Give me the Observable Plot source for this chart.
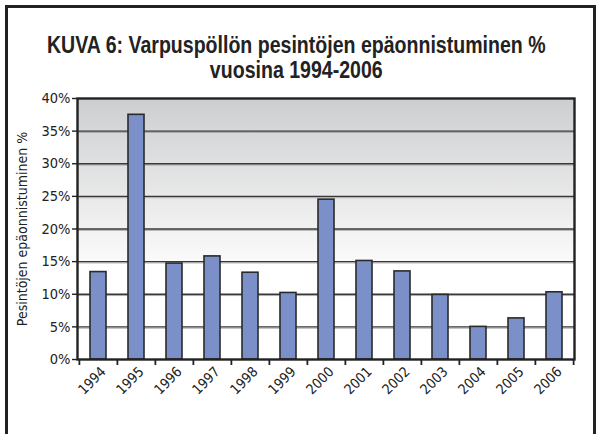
<!DOCTYPE html>
<html><head><meta charset="utf-8">
<script src="https://cdn.jsdelivr.net/npm/d3@7"></script>
<script src="https://cdn.jsdelivr.net/npm/@observablehq/plot@0.6"></script>
<style>
body{margin:0;background:#fff;}
#wrap{position:relative;width:599px;height:434px;overflow:hidden;font-family:"DejaVu Sans Condensed",sans-serif;}
#box{position:absolute;left:5px;top:5px;width:585px;height:460px;border:3px solid #222;}
#title{position:absolute;left:0;top:33px;width:593px;text-align:center;}
#title span{display:inline-block;transform:scaleX(0.85);transform-origin:center;font-family:"Liberation Sans",Arial,sans-serif;font-weight:bold;font-size:23px;line-height:25px;color:#222;white-space:nowrap;}
#chart{position:absolute;left:0;top:0;}
</style></head>
<body>
<div id="wrap"><div id="box"></div><div id="title"><span>KUVA 6: Varpuspöllön pesintöjen epäonnistuminen %<br>vuosina 1994-2006</span></div><div id="chart"></div></div>
<script>
const years = ["1994","1995","1996","1997","1998","1999","2000","2001","2002","2003","2004","2005","2006"];
const failurePct = [13.4, 37.5, 14.7, 15.8, 13.3, 10.2, 24.5, 15.1, 13.5, 9.9, 5.0, 6.3, 10.3];
const yTicks = [0, 5, 10, 15, 20, 25, 30, 35, 40];
const yTitle = "Pesintöjen epäonnistuminen %";

const data = years.map((y, i) => ({year: y, value: failurePct[i]}));
const W = 599, H = 434, mL = 77, mR = 25, mT = 98, mB = 75;
const step = (W - mL - mR) / years.length;
const font = '"DejaVu Sans Condensed",sans-serif';

const chart = Plot.plot({
  width: W, height: H,
  marginLeft: mL, marginRight: mR, marginTop: mT, marginBottom: mB,
  style: {fontFamily: font, background: "transparent", color: "#222"},
  x: {domain: years, paddingInner: 0.58, paddingOuter: 0.29, axis: null},
  y: {domain: [0, 40], axis: null},
  marks: [
    Plot.frame({fill: "url(#bgGrad)", stroke: null}),
    Plot.ruleY(yTicks.filter(d => d > 0 && d < 40), {stroke: "#aaa", strokeWidth: 1, dy: 1.3}),
    Plot.ruleY(yTicks.filter(d => d > 0 && d < 40), {stroke: "#383838", strokeWidth: 1.3}),
    Plot.barY(data, {x: "year", y: "value", fill: "#7b8fc9", stroke: "#2a2a2a", strokeWidth: 1.6}),
    Plot.frame({stroke: "#222", strokeWidth: 2.4}),
    Plot.ruleX(years, {x: d => d, y1: 0, y2: 0, dx: -step / 2, insetBottom: -6, stroke: "#222", strokeWidth: 1.8}),
    Plot.ruleX(years.slice(-1), {x: d => d, y1: 0, y2: 0, dx: step / 2, insetBottom: -6, stroke: "#222", strokeWidth: 1.8}),
    Plot.axisY({ticks: yTicks, tickFormat: d => d + "%", tickSize: 5, tickPadding: 2, fontSize: 14.5, label: null, stroke: "#222", strokeWidth: 1.4}),
    Plot.axisX({tickRotate: -45, tickSize: 0, tickPadding: 10, dx: 5, fontSize: 14, label: null}),
    Plot.text([yTitle], {frameAnchor: "left", rotate: -90, dx: -55, fontSize: 14, fill: "#222", textAnchor: "middle"})
  ]
});
const defs = d3.select(chart).insert("defs", ":first-child");
const g = defs.append("linearGradient").attr("id", "bgGrad").attr("x1", 0).attr("y1", 0).attr("x2", 0).attr("y2", 1);
g.append("stop").attr("offset", "0").attr("stop-color", "#cdced0");
g.append("stop").attr("offset", "0.62").attr("stop-color", "#fafafa");
g.append("stop").attr("offset", "0.625").attr("stop-color", "#ffffff");
g.append("stop").attr("offset", "1").attr("stop-color", "#ffffff");
document.getElementById("chart").appendChild(chart);
</script>
</body></html>
